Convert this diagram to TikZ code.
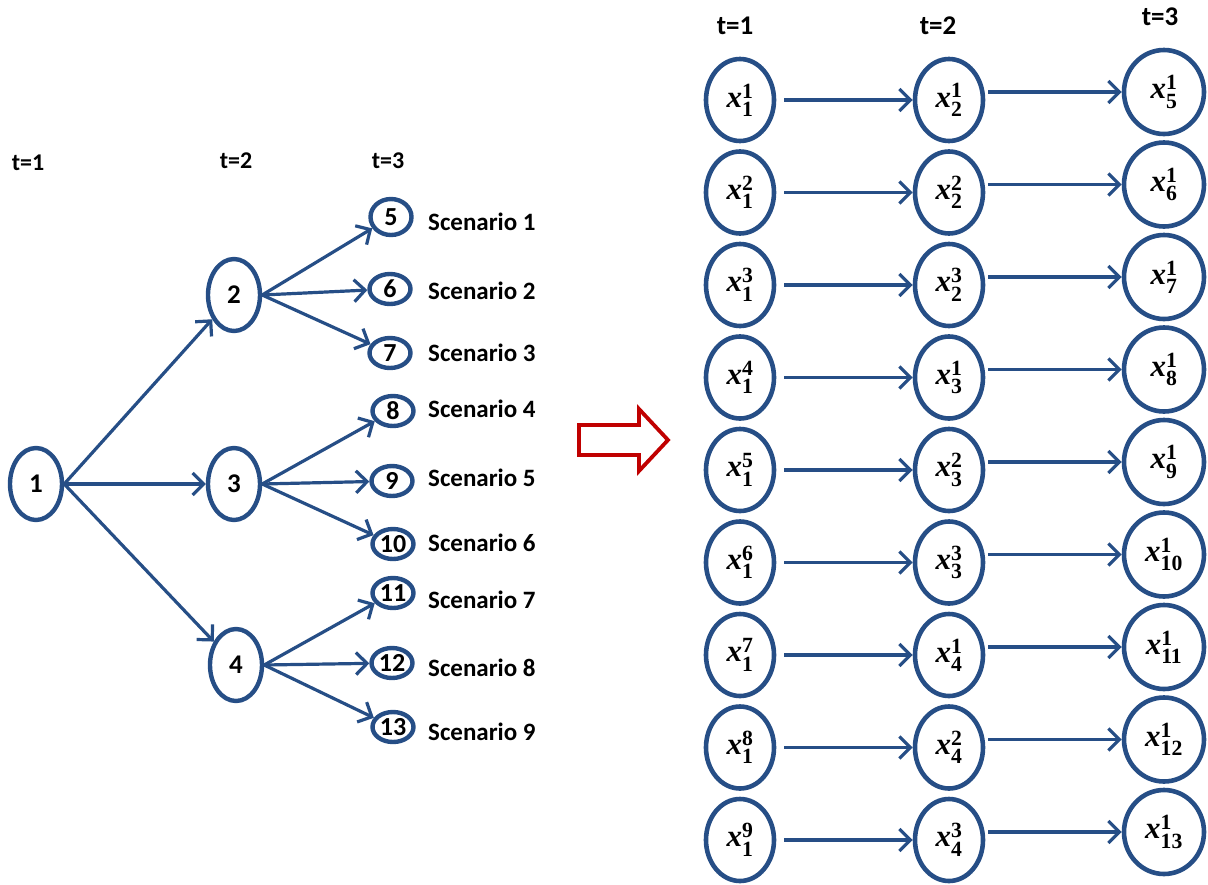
\documentclass[tikz,border=0pt]{standalone}
\usepackage{amsmath}
\usepackage{fontspec}
\setmainfont{Carlito}
\newfontfamily\xfont{Liberation Serif}
\usepackage{tikz}
\usetikzlibrary{arrows.meta}
\usetikzlibrary{calc}
\usetikzlibrary{shapes.geometric}
\definecolor{treeblue}{RGB}{38,78,134}
\definecolor{bigred}{RGB}{192,0,0}
% bold variable with stage and scenario index
\newcommand{\xlab}[2]{$\text{\xfont\bfseries\itshape x}^{\text{\xfont\bfseries #2}}_{\text{\xfont\bfseries #1}}$}

\begin{document}
\begin{tikzpicture}[x=1pt,y=-1pt,
    arr/.style={draw=treeblue,line width=3.2pt,-{Straight Barb[length=11pt,width=22pt,line width=3.2pt]}},
    big/.style={ellipse,draw=treeblue,line width=4.4pt,inner sep=0pt,minimum width=52pt,minimum height=72pt,font=\fontsize{27}{30}\selectfont\bfseries},
    leaf/.style={ellipse,draw=treeblue,line width=4.4pt,inner sep=0pt,minimum width=41pt,minimum height=30pt,font=\fontsize{26}{29}\selectfont\bfseries},
    xnode/.style={ellipse,draw=treeblue,line width=4.6pt,inner sep=0pt,minimum width=68pt,minimum height=82pt,font=\fontsize{31}{34}\selectfont},
    tlab/.style={font=\fontsize{24}{28}\selectfont\bfseries},
    scen/.style={anchor=west,inner sep=0pt,font=\fontsize{25}{28}\selectfont\bfseries}]
\useasboundingbox (0,0) rectangle (1208,884);

% scenario tree
\node[tlab] (ta) at (28,163) {t=1};
\node[tlab] (tb) at (236,161) {t=2};
\node[tlab] (tc) at (388,161) {t=3};

\node[big] (n1) at (36,484) {1};
\node[big] (n2) at (234,295) {2};
\node[big] (n3) at (234,484) {3};
\node[big] (n4) at (236,665) {4};

\node[leaf,minimum height=36pt] (n5) at (391,217) {5};
\node[leaf] (n6) at (390,289) {6};
\node[leaf] (n7) at (390,353) {7};
\node[leaf] (n8) at (393,411) {8};
\node[leaf] (n9) at (392,481) {9};
\node[leaf] (n10) at (393,544) {10};
\node[leaf] (n11) at (393,593) {11};
\node[leaf] (n12) at (392,663) {12};
\node[leaf] (n13) at (393,727) {13};

\foreach \k/\y in {1/222,2/291,3/353,4/409,5/478,6/543,7/600,8/668,9/732}
    \node[scen] (s\k) at (428,\y) {Scenario \k};

\foreach \m in {2,3,4}
    \draw[arr] (n1.east) -- (n\m);
\foreach \m in {5,6,7}
    \draw[arr] (n2.east) -- (n\m);
\foreach \m in {8,9,10}
    \draw[arr] (n3.east) -- (n\m);
\foreach \m in {11,12,13}
    \draw[arr] (n4.east) -- (n\m);

% red block arrow
\draw[bigred,line width=3.8pt,line join=miter] (579,425) -- (639,425) -- (639,409) -- (668,440)
    -- (639,471) -- (639,455) -- (579,455) -- cycle;

% one chain per scenario
\node[font=\fontsize{27}{30}\selectfont\bfseries] (ra) at (735,26) {t=1};
\node[font=\fontsize{27}{30}\selectfont\bfseries] (rb) at (938,26) {t=2};
\node[font=\fontsize{27}{30}\selectfont\bfseries] (rc) at (1160,17) {t=3};

\foreach \k in {1,...,9}
    \node[xnode] (a\k) at (740,{100+92.5*(\k-1)}) {\xlab{1}{\k}};
\foreach \p/\q [count=\k] in {2/1,2/2,2/3,3/1,3/2,3/3,4/1,4/2,4/3}
    \node[xnode] (b\k) at (949,{100+92.5*(\k-1)}) {\xlab{\p}{\q}};
\foreach \k in {1,...,9}{
    \pgfmathtruncatemacro\p{\k+4}
    \node[xnode,minimum width=80pt,minimum height=84pt] (c\k) at (1164,{92+92.5*(\k-1)}) {\xlab{\p}{1}};
}

\foreach \k in {1,...,9}{
    \draw[arr,shorten <=8pt] (a\k) -- (b\k);
    \draw[arr,shorten <=3pt] (c\k -| b\k.east) -- (c\k);
}
\end{tikzpicture}
\end{document}
